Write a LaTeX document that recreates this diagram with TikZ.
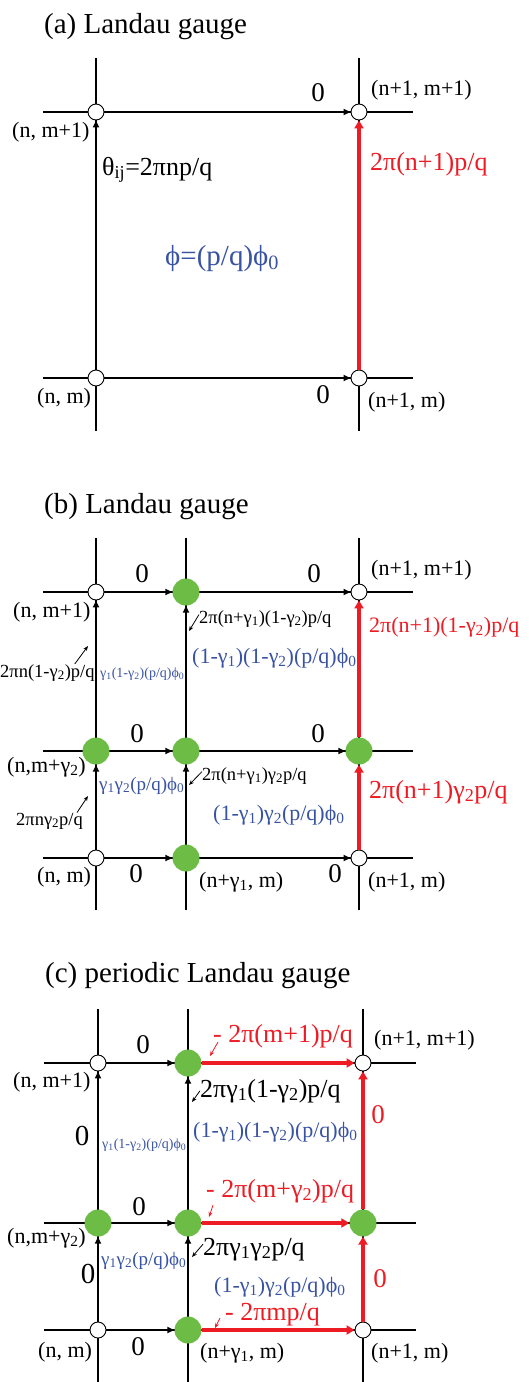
\documentclass[tikz,border=0pt]{standalone}
\usepackage{fontspec}
\setmainfont{Liberation Serif}
\usetikzlibrary{arrows.meta}

\definecolor{gaugered}{RGB}{237,28,36}
\definecolor{fluxblue}{RGB}{57,83,164}
\definecolor{sitegreen}{RGB}{108,188,69}
\newcommand{\idx}[1]{\textsubscript{#1}}
\newcommand{\fsz}[1]{\fontsize{#1}{#1}\selectfont}

\begin{document}
\begin{tikzpicture}[x=1pt, y=-1pt, >={Triangle[length=7pt,width=6pt]},
  every node/.style={inner sep=0pt},
  site/.style={circle, draw, fill=white, line width=0.9pt, minimum size=16pt},
  gsite/.style={circle, fill=sitegreen, minimum size=27pt},
  gridline/.style={line width=1.2pt},
  link/.style={->, line width=2pt},
  rlink/.style={->, line width=4.5pt, draw=gaugered, >={Triangle[length=8pt,width=9pt]}},
  ptr/.style={->, line width=0.8pt, >={Stealth[length=5pt,width=4pt]}},
  title/.style={anchor=base west, font=\fsz{29}},
  coord/.style={anchor=base west, font=\fsz{22}},
  zero/.style={anchor=base, font=\fsz{27}},
  phase/.style={anchor=base west, font=\fsz{26}},
  sphase/.style={anchor=base west, font=\fsz{18.5}},
  flux/.style={anchor=base west, font=\fsz{22}, text=fluxblue},
  sflux/.style={anchor=base west, font=\fsz{19}, text=fluxblue},
  tflux/.style={anchor=base west, font=\fsz{14}, text=fluxblue}]
  \useasboundingbox (0,0) rectangle (528,1382);

  % (a)
  \node[title] (ta) at (44,33) {(a) Landau gauge};
  \foreach \yy in {112,378} \draw[gridline] (43,\yy) -- (413,\yy);
  \foreach \xx in {96,359} \draw[gridline] (\xx,58) -- (\xx,431);
  \node[site] (a00) at (96,378) {};
  \node[site] (a10) at (359,378) {};
  \node[site] (a01) at (96,112) {};
  \node[site] (a11) at (359,112) {};
  \draw[link] (a01) -- (a11);
  \draw[link] (a00) -- (a10);
  \draw[link] (a00) -- (a01);
  \draw[rlink] (a10) -- (a11);
  \node[zero] (za1) at (318,101) {0};
  \node[zero] (za0) at (323,403) {0};
  \node[coord] (ca11) at (371,95) {(n+1, m+1)};
  \node[coord] (ca01) at (12,137) {(n, m+1)};
  \node[coord] (ca00) at (37,403) {(n, m)};
  \node[coord] (ca10) at (368,407) {(n+1, m)};
  \node[phase] (tha) at (102,175) {θ\idx{ij}=2πnp/q};
  \node[phase, text=gaugered] (ra) at (370,170) {2π(n+1)p/q};
  \node[anchor=base west, font=\fsz{29}, text=fluxblue] (fa) at (165,265) {ϕ=(p/q)ϕ\idx{0}};

  % (b)
  \node[title] (tb) at (44,513) {(b) Landau gauge};
  \foreach \yy in {592,751,858} \draw[gridline] (43,\yy) -- (413,\yy);
  \foreach \xx in {96,186,359} \draw[gridline] (\xx,538) -- (\xx,910);
  \node[site] (b00) at (96,858) {};
  \node[gsite] (b10) at (186,858) {};
  \node[site] (b20) at (359,858) {};
  \node[gsite] (b01) at (96,751) {};
  \node[gsite] (b11) at (186,751) {};
  \node[gsite] (b21) at (359,751) {};
  \node[site] (b02) at (96,592) {};
  \node[gsite] (b12) at (186,592) {};
  \node[site] (b22) at (359,592) {};
  \foreach \r in {0,1,2} {
    \draw[link] (b0\r) -- (b1\r);
    \draw[link] (b1\r) -- (b2\r);
  }
  \foreach \c in {0,1} {
    \draw[link] (b\c0) -- (b\c1);
    \draw[link] (b\c1) -- (b\c2);
  }
  \draw[rlink] (b20) -- (b21);
  \draw[rlink] (b21) -- (b22);
  \node[zero] (zb1) at (142,582) {0};
  \node[zero] (zb2) at (314,582) {0};
  \node[zero] (zb3) at (137,742) {0};
  \node[zero] (zb4) at (318,742) {0};
  \node[zero] (zb5) at (136,882) {0};
  \node[zero] (zb6) at (335,882) {0};
  \node[coord] (cb22) at (371,575) {(n+1, m+1)};
  \node[coord] (cb02) at (13,617) {(n, m+1)};
  \node[coord] (cb01) at (7,772) {(n,m+γ\idx{2})};
  \node[coord] (cb00) at (37,882) {(n, m)};
  \node[coord] (cb10) at (199,887) {(n+γ\idx{1}, m)};
  \node[coord] (cb20) at (368,887) {(n+1, m)};
  \node[sphase] (pb12) at (199,623) {2π(n+γ\idx{1})(1-γ\idx{2})p/q};
  \node[sphase] (pb02) at (0,677) {2πn(1-γ\idx{2})p/q};
  \node[sphase] (pb11) at (202,780) {2π(n+γ\idx{1})γ\idx{2}p/q};
  \node[sphase] (pb01) at (16,825) {2πnγ\idx{2}p/q};
  \node[anchor=base west, font=\fsz{22}, text=gaugered] (rb2) at (369,632) {2π(n+1)(1-γ\idx{2})p/q};
  \node[phase, text=gaugered] (rb1) at (369,798) {2π(n+1)γ\idx{2}p/q};
  \node[tflux] (fb01) at (100,677) {γ\idx{1}(1-γ\idx{2})(p/q)ϕ\idx{0}};
  \node[flux] (fb11) at (192,663) {(1-γ\idx{1})(1-γ\idx{2})(p/q)ϕ\idx{0}};
  \node[sflux] (fb00) at (99,790) {γ\idx{1}γ\idx{2}(p/q)ϕ\idx{0}};
  \node[flux] (fb10) at (213,820) {(1-γ\idx{1})γ\idx{2}(p/q)ϕ\idx{0}};
  \coordinate (qb1) at (189,631);
  \coordinate (qb2) at (88,646);
  \coordinate (qb3) at (189,785);
  \coordinate (qb4) at (88,796);
  \draw[ptr] ([yshift=4pt]pb12.west) -- (qb1);
  \draw[ptr] ([xshift=-20pt]pb02.north east) -- (qb2);
  \draw[ptr] ([yshift=4pt]pb11.west) -- (qb3);
  \draw[ptr] ([xshift=-6pt]pb01.north east) -- (qb4);

  % (c)
  \node[title] (tc) at (45,982) {(c) periodic Landau gauge};
  \foreach \yy in {1063,1223,1330} \draw[gridline] (44,\yy) -- (416,\yy);
  \foreach \xx in {98,188,363} \draw[gridline] (\xx,1009) -- (\xx,1382);
  \node[site] (c00) at (98,1330) {};
  \node[gsite] (c10) at (188,1330) {};
  \node[site] (c20) at (363,1330) {};
  \node[gsite] (c01) at (98,1223) {};
  \node[gsite] (c11) at (188,1223) {};
  \node[gsite] (c21) at (363,1223) {};
  \node[site] (c02) at (98,1063) {};
  \node[gsite] (c12) at (188,1063) {};
  \node[site] (c22) at (363,1063) {};
  \foreach \r in {0,1,2} {
    \draw[link] (c0\r) -- (c1\r);
    \draw[rlink] (c1\r) -- (c2\r);
  }
  \foreach \c in {0,1} {
    \draw[link] (c\c0) -- (c\c1);
    \draw[link] (c\c1) -- (c\c2);
  }
  \draw[rlink] (c20) -- (c21);
  \draw[rlink] (c21) -- (c22);
  \node[zero] (zc1) at (143,1053) {0};
  \node[zero] (zc2) at (139,1215) {0};
  \node[zero] (zc3) at (138,1355) {0};
  \node[zero, font=\fsz{29}] (zc4) at (82,1145) {0};
  \node[zero, font=\fsz{29}] (zc5) at (88,1283) {0};
  \node[zero, text=gaugered] (zc6) at (378,1123) {0};
  \node[zero, text=gaugered] (zc7) at (380,1287) {0};
  \node[coord] (cc22) at (374,1045) {(n+1, m+1)};
  \node[coord] (cc02) at (13,1087) {(n, m+1)};
  \node[coord] (cc01) at (7,1243) {(n,m+γ\idx{2})};
  \node[coord] (cc00) at (38,1357) {(n, m)};
  \node[coord] (cc10) at (200,1358) {(n+γ\idx{1}, m)};
  \node[coord] (cc20) at (371,1358) {(n+1, m)};
  \node[phase] (pc12) at (200,1097) {2πγ\idx{1}(1-γ\idx{2})p/q};
  \node[phase] (pc11) at (203,1255) {2πγ\idx{1}γ\idx{2}p/q};
  \node[phase, text=gaugered] (rc2) at (213,1042) {- 2π(m+1)p/q};
  \node[phase, text=gaugered] (rc1) at (206,1197) {- 2π(m+γ\idx{2})p/q};
  \node[phase, text=gaugered] (rc0) at (225,1320) {- 2πmp/q};
  \node[tflux] (fc01) at (102,1148) {γ\idx{1}(1-γ\idx{2})(p/q)ϕ\idx{0}};
  \node[flux] (fc11) at (193,1137) {(1-γ\idx{1})(1-γ\idx{2})(p/q)ϕ\idx{0}};
  \node[sflux] (fc00) at (101,1265) {γ\idx{1}γ\idx{2}(p/q)ϕ\idx{0}};
  \node[flux] (fc10) at (214,1292) {(1-γ\idx{1})γ\idx{2}(p/q)ϕ\idx{0}};
  \coordinate (qc1) at (210,1056);
  \coordinate (qc2) at (192,1102);
  \coordinate (qc3) at (209,1217);
  \coordinate (qc4) at (192,1257);
  \coordinate (qc5) at (215,1328);
  \draw[ptr, gaugered] ([xshift=5pt]rc2.base west) -- (qc1);
  \draw[ptr] (pc12.west) -- (qc2);
  \draw[ptr, gaugered] ([xshift=7pt, yshift=-8pt]rc1.base west) -- (qc3);
  \draw[ptr] ([yshift=5pt]pc11.west) -- (qc4);
  \draw[ptr, gaugered] ([xshift=-5pt, yshift=2pt]rc0.base west) -- (qc5);
\end{tikzpicture}
\end{document}
